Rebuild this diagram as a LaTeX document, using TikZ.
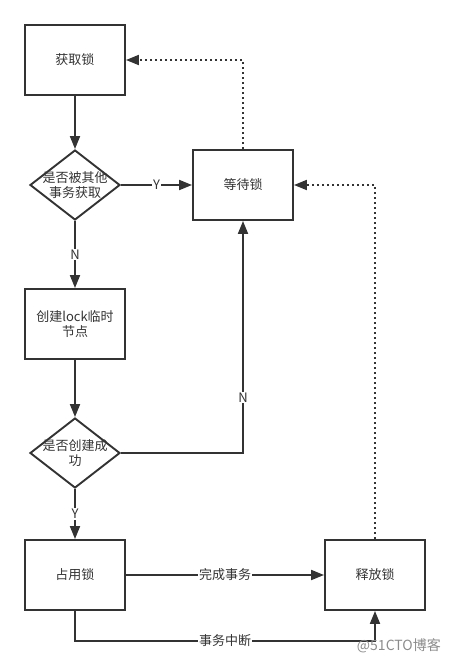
\documentclass[tikz,border=0pt]{standalone}
\usepackage{fontspec}
\setmainfont{Noto Sans CJK SC}
\usetikzlibrary{arrows.meta,shapes.geometric}
\definecolor{ink}{HTML}{333333}
\definecolor{wm}{HTML}{8C8C8C}
\begin{document}
\begin{tikzpicture}[x=1pt,y=-1pt,
  box/.style={draw=ink, line width=1.9pt, minimum width=100pt, minimum height=70pt,
    inner sep=0pt, text=ink, align=center, font=\fontsize{13}{15.5}\selectfont},
  dia/.style={draw=ink, line width=1.9pt, shape=diamond, minimum width=90pt,
    minimum height=70pt, inner sep=0pt},
  txt/.style={text=ink, align=center, inner sep=0pt, font=\fontsize{13}{15.5}\selectfont},
  conn/.style={draw=ink, line width=1.9pt, -{Triangle[length=13pt,width=10pt]}},
  dots/.style={conn, dash pattern=on 2.2pt off 2.8pt},
  lbl/.style={fill=white, text=ink, inner sep=1pt, font=\fontsize{13}{15}\selectfont}]
\useasboundingbox (0,0) rectangle (450,665);

\node[box] (a) at (75,60) {获取锁};
\node[dia] (d1) at (75,185) {};
\node[txt] (d1t) at (d1.center) {是否被其他\\事务获取};
\node[box] (w) at (243,185) {等待锁};
\node[box] (b) at (75,324) {创建lock临时\\节点};
\node[dia] (d2) at (75,453) {};
\node[txt] (d2t) at (d2.center) {是否创建成\\功};
\node[box] (c) at (75,575) {占用锁};
\node[box] (r) at (375,575) {释放锁};

\draw[conn] (a.south) -- (d1.north);
\draw[conn] (d1.east) -- node[lbl]{Y} (w.west);
\draw[conn] (d1.south) -- node[lbl]{N} (b.north);
\draw[conn] (b.south) -- (d2.north);
\draw[conn] (d2.east) -| node[lbl, pos=0.62]{N} (w.south);
\draw[conn] (d2.south) -- node[lbl]{Y} (c.north);
\draw[conn] (c.east) -- node[lbl]{完成事务} (r.west);
\draw[conn] (c.south) -- ++(0,30) -| node[lbl, pos=0.25]{事务中断} (r.south);
\draw[dots] (w.north) |- (a.east);
\draw[dots] (r.north) |- (w.east);

\node[text=wm, anchor=east, inner sep=0pt, font=\fontsize{14}{16}\selectfont] (mark) at (441,646) {@51CTO博客};
\end{tikzpicture}
\end{document}
